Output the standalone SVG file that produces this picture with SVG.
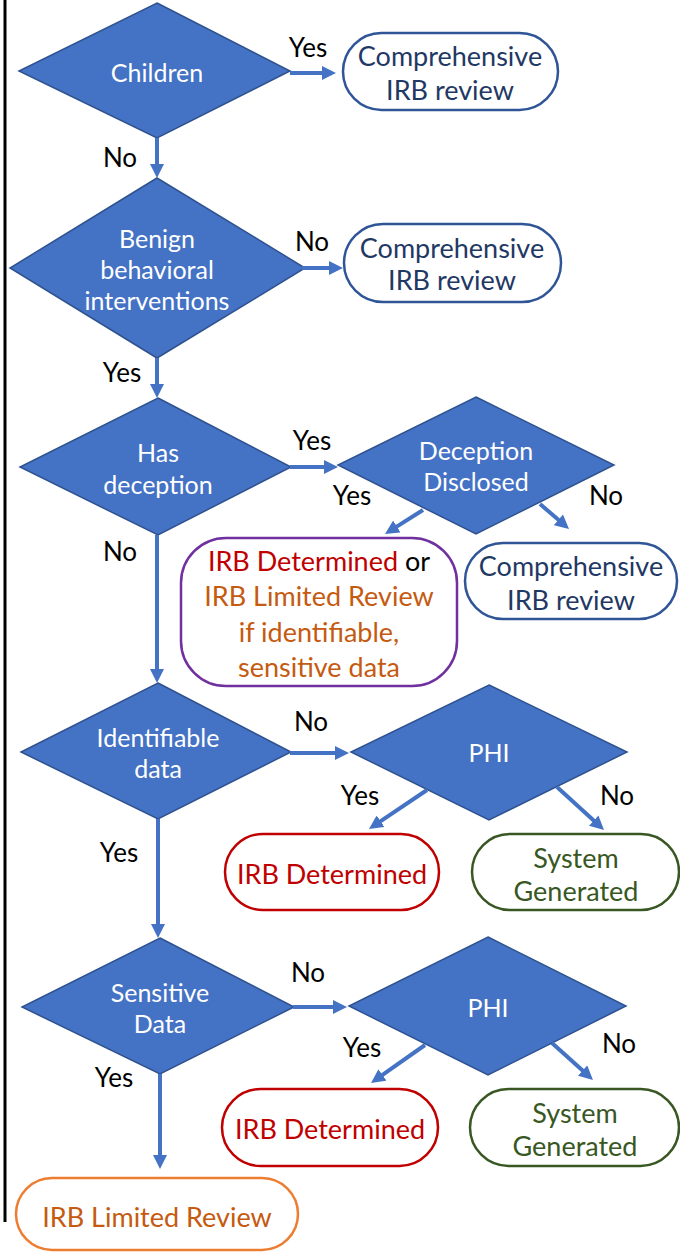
<svg xmlns="http://www.w3.org/2000/svg" width="680" height="1253" viewBox="0 0 680 1253">
<defs>
<marker id="ah" markerUnits="userSpaceOnUse" markerWidth="14" markerHeight="14" viewBox="0 0 14 14" refX="3" refY="7" orient="auto">
<path d="M0,0 L14,7 L0,14 z" fill="#4472C4"/>
</marker>
</defs>
<style>
text{font-family:Lato,"Liberation Sans",sans-serif;text-anchor:middle;dominant-baseline:central}
.dia{fill:#4472C4;stroke:#2F528F;stroke-width:1.5}
.dt{fill:#fff;font-size:25px}
.lbl{fill:#000;font-size:26px}
.bx{fill:#fff;stroke-width:2.5}
.bt{font-size:27px}
.blue{stroke:#2F5597}
.bluet{fill:#1F3864}
.red{stroke:#C00000}
.redt{fill:#C00000}
.grn{stroke:#385723}
.grnt{fill:#385723}
.org{stroke:#ED7D31}
.orgt{fill:#C55A11}
.pur{stroke:#7030A0}
.con line{stroke:#4472C4;stroke-width:4;marker-end:url(#ah)}
</style>
<line x1="5" y1="0" x2="5" y2="1222" stroke="#000" stroke-width="3"/>

<g id="children"><polygon class="dia" points="157,3 290,71 157,138 19,71"/><text class="dt" x="157" y="72">Children</text></g>
<g id="comp1"><rect class="bx blue" x="343" y="33" width="215" height="77" rx="38.5"/><text class="bt bluet" x="450" y="55">Comprehensive</text><text class="bt bluet" x="450" y="89">IRB review</text></g>
<g id="benign"><polygon class="dia" points="157,178 305,268 157,358 10,268"/><text class="dt" x="157" y="238">Benign</text><text class="dt" x="157" y="269">behavioral</text><text class="dt" x="157" y="300">interventions</text></g>
<g id="comp2"><rect class="bx blue" x="344" y="224" width="217" height="78" rx="39"/><text class="bt bluet" x="452" y="247">Comprehensive</text><text class="bt bluet" x="452" y="279">IRB review</text></g>
<g id="hasdeception"><polygon class="dia" points="158,398 291,467 158,535 20,467"/><text class="dt" x="158" y="452">Has</text><text class="dt" x="158" y="484">deception</text></g>
<g id="disclosed"><polygon class="dia" points="476,397 614,465 476,534 338,465"/><text class="dt" x="476" y="450">Deception</text><text class="dt" x="476" y="481">Disclosed</text></g>
<g id="determinedor"><rect class="bx pur" x="181" y="538" width="276" height="148" rx="45"/>
<text class="bt" x="319" y="560"><tspan class="redt">IRB Determined</tspan><tspan fill="#000"> or</tspan></text>
<text class="bt orgt" x="319" y="595">IRB Limited Review</text><text class="bt orgt" x="319" y="631">if identifiable,</text><text class="bt orgt" x="319" y="666">sensitive data</text></g>
<g id="comp3"><rect class="bx blue" x="465" y="543" width="212" height="76" rx="38"/><text class="bt bluet" x="571" y="565">Comprehensive</text><text class="bt bluet" x="571" y="599">IRB review</text></g>
<g id="identifiable"><polygon class="dia" points="158,683 291,752 158,819 21,752"/><text class="dt" x="158" y="737">Identifiable</text><text class="dt" x="158" y="768">data</text></g>
<g id="phi1"><polygon class="dia" points="489,685 627,752 489,820 351,752"/><text class="dt" x="489" y="752">PHI</text></g>
<g id="irbdet1"><rect class="bx red" x="225" y="834" width="214" height="76" rx="38"/><text class="bt redt" x="332" y="873">IRB Determined</text></g>
<g id="sysgen1"><rect class="bx grn" x="472" y="834" width="207" height="76" rx="38"/><text class="bt grnt" x="576" y="857">System</text><text class="bt grnt" x="576" y="890">Generated</text></g>
<g id="sensitive"><polygon class="dia" points="160,938 294,1007 160,1074 22,1007"/><text class="dt" x="160" y="992">Sensitive</text><text class="dt" x="160" y="1023">Data</text></g>
<g id="phi2"><polygon class="dia" points="488,937 626,1006 488,1075 349,1006"/><text class="dt" x="488" y="1007">PHI</text></g>
<g id="irbdet2"><rect class="bx red" x="222" y="1089" width="216" height="77" rx="38.5"/><text class="bt redt" x="330" y="1128">IRB Determined</text></g>
<g id="sysgen2"><rect class="bx grn" x="470" y="1089" width="209" height="77" rx="38.5"/><text class="bt grnt" x="575" y="1112">System</text><text class="bt grnt" x="575" y="1145">Generated</text></g>
<g id="limited"><rect class="bx org" x="16" y="1178" width="282" height="72" rx="36"/><text class="bt orgt" x="157" y="1216">IRB Limited Review</text></g>

<g class="con">
<line x1="290" y1="73" x2="325" y2="73"/>
<line x1="157" y1="138" x2="157" y2="167"/>
<line x1="302" y1="268" x2="332" y2="268"/>
<line x1="157" y1="358" x2="157" y2="387"/>
<line x1="290" y1="467" x2="327" y2="467"/>
<line x1="423" y1="510" x2="394.3" y2="528.1"/>
<line x1="540" y1="504" x2="560.7" y2="521.8"/>
<line x1="157" y1="535" x2="157" y2="672"/>
<line x1="290" y1="753" x2="338" y2="753"/>
<line x1="427" y1="790" x2="378.1" y2="822.9"/>
<line x1="557" y1="787" x2="595.9" y2="822.6"/>
<line x1="158" y1="819" x2="158" y2="927"/>
<line x1="293" y1="1007" x2="336" y2="1007"/>
<line x1="425" y1="1045" x2="380" y2="1076.7"/>
<line x1="552" y1="1043" x2="584.8" y2="1072.6"/>
<line x1="160" y1="1074" x2="160" y2="1158"/>
</g>
<g id="labels">
<text class="lbl" x="308" y="47">Yes</text>
<text class="lbl" x="120" y="157">No</text>
<text class="lbl" x="312" y="241">No</text>
<text class="lbl" x="122" y="372">Yes</text>
<text class="lbl" x="312" y="440">Yes</text>
<text class="lbl" x="352" y="495">Yes</text>
<text class="lbl" x="606" y="495">No</text>
<text class="lbl" x="120" y="551">No</text>
<text class="lbl" x="311" y="721">No</text>
<text class="lbl" x="360" y="795">Yes</text>
<text class="lbl" x="617" y="795">No</text>
<text class="lbl" x="119" y="852">Yes</text>
<text class="lbl" x="308" y="972">No</text>
<text class="lbl" x="362" y="1047">Yes</text>
<text class="lbl" x="619" y="1043">No</text>
<text class="lbl" x="114" y="1077">Yes</text>
</g>
</svg>
